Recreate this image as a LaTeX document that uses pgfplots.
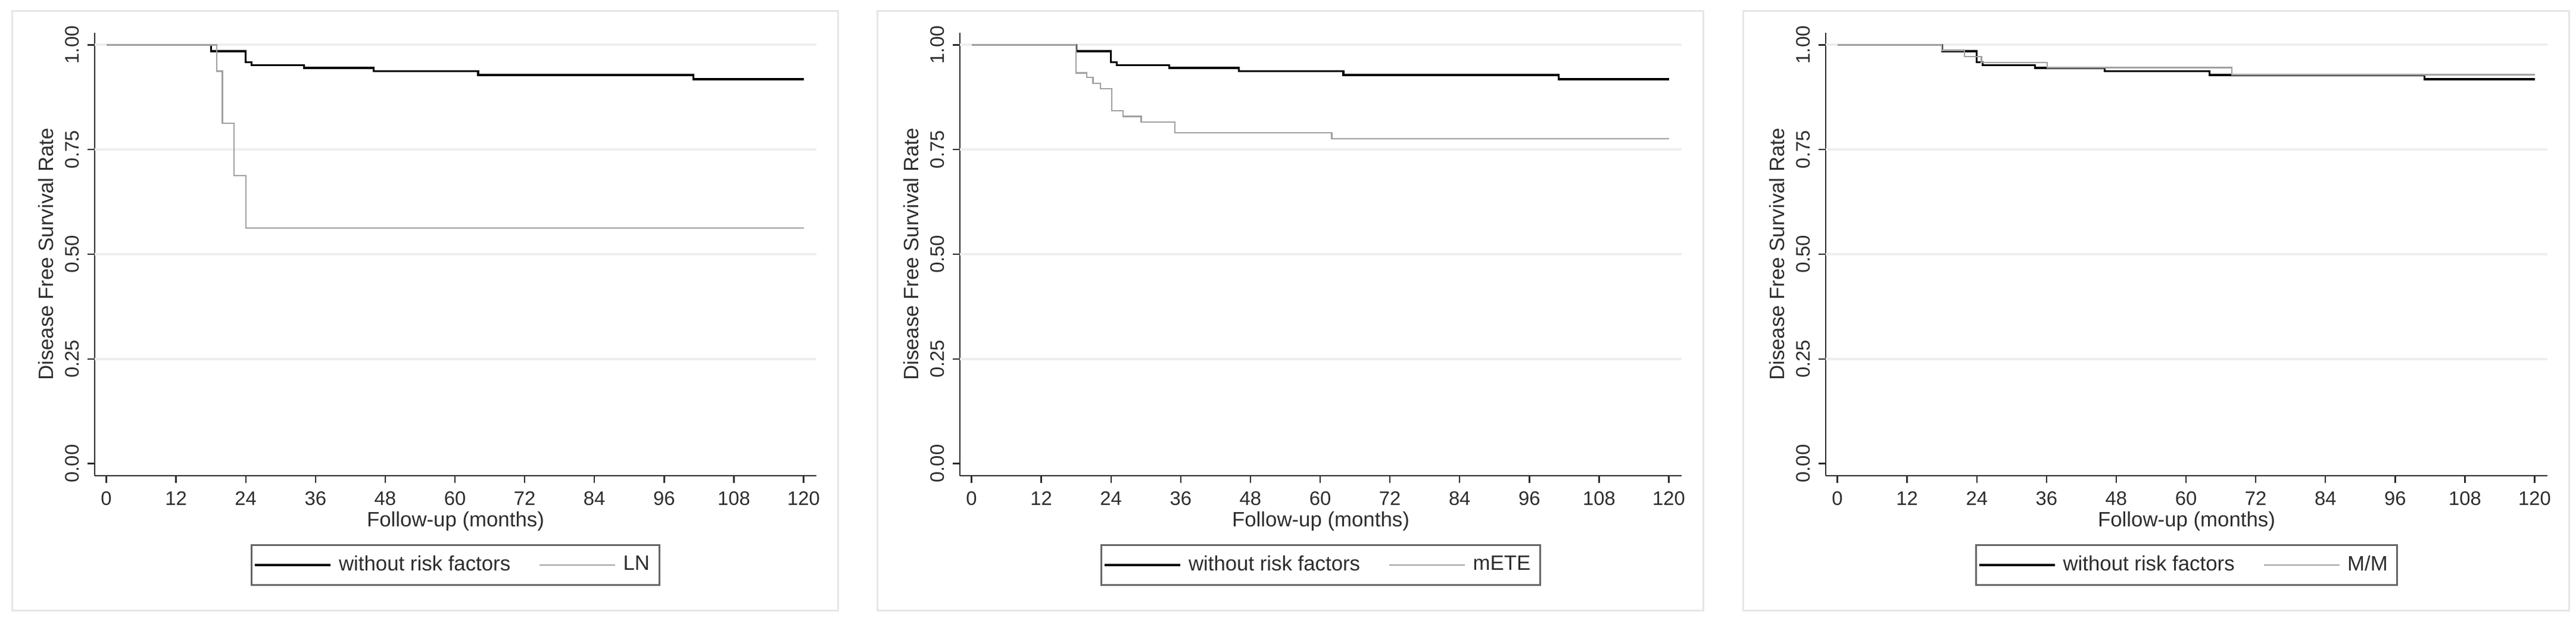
\documentclass[border=0pt]{standalone}
\usepackage{pgfplots}
\pgfplotsset{compat=1.18}
\usepackage{pgfplotstable}
\usepackage{fontspec}
\setmainfont{Liberation Sans}

\definecolor{kmgray}{RGB}{160,160,160}
\definecolor{gridgray}{RGB}{238,238,238}
\definecolor{framegray}{RGB}{230,230,230}
\definecolor{inkgray}{RGB}{45,45,45}

% Kaplan-Meier estimates (months, survival)
\pgfplotstableread{
t s
0 1
18 0.985
24 0.959
25 0.951
34 0.945
46 0.937
64 0.928
101 0.918
120 0.918
}\norisk

\pgfplotstableread{
t s
0 1
19 0.9375
20 0.8125
22 0.6875
24 0.5625
120 0.5625
}\lnodes

\pgfplotstableread{
t s
0 1
18 0.933
19.8 0.922
20.9 0.908
22.2 0.895
24.1 0.843
26.1 0.829
29.2 0.816
35 0.790
62 0.776
120 0.776
}\mete

\pgfplotstableread{
t s
0 1
18 0.987
21.9 0.972
24.8 0.958
36.1 0.946
67.9 0.929
120 0.929
}\mm

\pgfplotsset{
  kmpanel/.style={
    scale only axis,
    width=303pt, height=186pt,
    xmin=-2, xmax=122.2,
    ymin=-0.029, ymax=1.029,
    axis lines*=left,
    axis line style={inkgray, line width=0.6pt},
    tick style={inkgray, line width=0.6pt},
    tick align=outside,
    major tick length=3pt,
    xtick={0,12,...,120},
    ytick={0,0.25,0.5,0.75,1},
    minor tick num=0,
    /pgf/number format/assume math mode=true,
    ticklabel style={font=\fontsize{8.2}{9}\selectfont, text=inkgray},
    yticklabel style={rotate=90, anchor=south,
      /pgf/number format/fixed,
      /pgf/number format/fixed zerofill,
      /pgf/number format/precision=2},
    extra y ticks={0.25,0.5,0.75,1},
    extra y tick labels={},
    extra y tick style={ymajorgrids=true, tick style={draw=none}},
    grid style={gridgray, line width=1pt},
    xlabel={Follow-up (months)},
    ylabel={Disease Free Survival Rate},
    label style={font=\fontsize{8.7}{10}\selectfont, text=inkgray, inner sep=0pt},
    xlabel style={at={(axis description cs:0.5,-0.1028)}, anchor=center},
    ylabel style={at={(axis description cs:-0.0677,0.5)}, anchor=center},
    legend columns=2,
    legend cell align=left,
    legend style={at={(0.5,-0.1546)}, anchor=north,
      draw=black!60, line width=0.7pt,
      inner xsep=1pt, inner ysep=1.5pt,
      nodes={inner sep=3pt, text=inkgray},
      font=\fontsize{8.7}{10}\selectfont,
      /tikz/every even column/.append style={column sep=9pt}},
    legend image code/.code={\draw[#1] (0pt,0pt) -- (31.75pt,0pt);},
  },
  grouponeline/.style={const plot, black, line width=0.8pt},
  grouptwoline/.style={const plot, kmgray, line width=0.6pt},
}

\begin{document}
\begin{tikzpicture}
\path[use as bounding box, fill=white] (0pt,0pt) rectangle (1081.5pt,262pt);

\draw[framegray, line width=0.75pt] (5pt,5.5pt) rectangle (351.75pt,257.25pt);
\draw[framegray, line width=0.75pt] (368.25pt,5.5pt) rectangle (715pt,257.25pt);
\draw[framegray, line width=0.75pt] (731.75pt,5.5pt) rectangle (1078.5pt,257.25pt);

\begin{axis}[kmpanel, at={(39.75pt,62.25pt)}, anchor=south west]
  \addplot[grouponeline] table[x=t, y=s] {\norisk};
  \addlegendentry{without risk factors}
  \addplot[grouptwoline] table[x=t, y=s] {\lnodes};
  \addlegendentry{LN}
\end{axis}

\begin{axis}[kmpanel, at={(403pt,62.25pt)}, anchor=south west]
  \addplot[grouponeline] table[x=t, y=s] {\norisk};
  \addlegendentry{without risk factors}
  \addplot[grouptwoline] table[x=t, y=s] {\mete};
  \addlegendentry{mETE}
\end{axis}

\begin{axis}[kmpanel, at={(766.5pt,62.25pt)}, anchor=south west]
  \addplot[grouponeline] table[x=t, y=s] {\norisk};
  \addlegendentry{without risk factors}
  \addplot[grouptwoline] table[x=t, y=s] {\mm};
  \addlegendentry{M/M}
\end{axis}
\end{tikzpicture}
\end{document}
